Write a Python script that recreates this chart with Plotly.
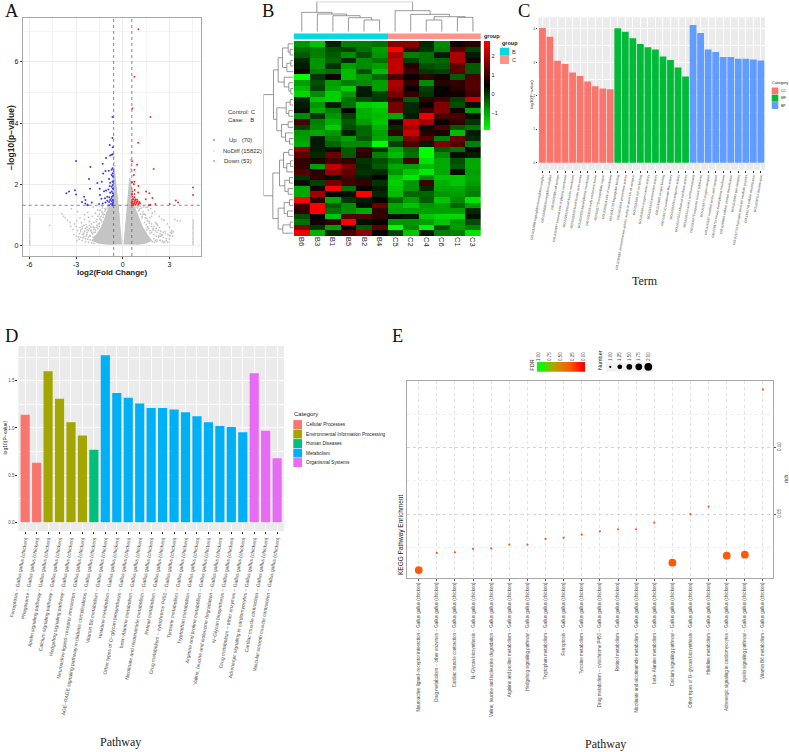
import plotly.graph_objects as go

W, H = 789, 752
SANS = "Liberation Sans"
SERIF = "Liberation Serif"

# ---------- Panel A data ----------
up_x = [-.66,-.66,-.84,-.64,-.81,-.64,-.71,-1.07,-3.0,-1.29,-2.08,-.66,-.71,-1.11,-.90,-1.26,-.64,-.71,-2.17,-.88,-.64,-1.35,-1.63,-.81,-.66,-.64,-.84,-.71,-2.10,-1.48,-.92,-.64,-1.07,-1.20,-3.07,-3.45,-3.62,-3.0,-2.49,-1.46,-.81,-.71,-.64,-.99,-.86,-.69,-1.14,-1.37,-2.40,-2.62,-1.99,-1.52,-1.29,-1.11,-.88,-.71,-.64,-.81,-.99,-.64,-.75,-2.40,-2.25,-.88,-.66,-2.27,-.62,-.62,-.62,-.73]
up_y = [4.20,3.51,3.28,3.21,2.94,2.98,2.96,2.86,2.76,2.67,2.56,2.52,2.47,2.43,2.44,2.35,2.36,2.30,2.17,2.17,2.25,2.08,2.04,2.05,2.08,1.97,1.94,1.92,1.85,1.85,1.83,1.85,1.79,1.77,1.80,1.76,1.70,1.66,1.59,1.65,1.72,1.76,1.70,1.59,1.57,1.59,1.54,1.52,1.48,1.42,1.40,1.35,1.37,1.40,1.42,1.44,1.48,1.48,1.46,1.35,1.35,1.37,1.31,1.31,1.31,1.33,2.10,1.62,1.40,1.53]
down_x = [1.01,.75,.62,1.78,.99,.60,.92,1.99,.75,.71,.75,.60,.71,1.01,.77,.62,1.50,1.71,.60,.75,.99,4.52,4.52,1.91,1.48,3.41,3.56,3.02,2.10,1.76,1.67,.62,.75,.69,.82,.92,.64,.77,.90,1.07,.60,.73,.88,1.05,.60,.81,1.01,1.11,.58,.69,.64,.79,.96]
down_y = [7.07,5.52,4.48,4.20,3.36,2.75,2.64,2.50,2.47,2.30,2.08,2.06,2.00,1.94,1.81,1.76,1.76,1.70,1.68,1.68,1.73,1.89,1.65,1.55,1.51,1.47,1.40,1.35,1.35,1.33,1.31,1.59,1.57,1.51,1.51,1.49,1.44,1.42,1.42,1.42,1.38,1.38,1.37,1.38,1.33,1.33,1.35,1.38,1.40,1.33,1.51,1.46,1.44]
nodiff_x = [-4.7,3.7,-3.9,-3.8,-3.7,-3.55,-3.4,-3.3,-3.1,-3.0,-2.9,-2.75,-2.6,-2.45,-2.3,-2.2,-2.05,-1.9,-1.75,-1.6,-1.45,-1.3,
            -3.0,-2.85,-2.7,-2.55,-2.4,-2.25,-2.1,-1.95,-1.8,-2.9,-2.7,-2.5,-2.3,-2.1,-1.9,-2.6,-2.4,-2.2,-2.0,-1.8,-3.2,-2.95,-2.65,-2.35,-2.05,-1.85,-1.65,-1.5,-1.4,-1.25,-1.15,-1.55,-1.7,-1.35,-1.2,-2.15,-2.45,-2.75,-1.95,-2.25,-2.55,-3.15,-3.35,-2.95,-1.6,-1.75,-1.45,-1.3,
            1.2,1.3,1.45,1.55,1.7,1.85,2.0,2.15,2.3,2.45,2.6,2.75,2.9,3.05,3.2,3.35,3.5,1.25,1.4,1.6,1.75,1.95,2.1,2.25,2.4,2.6,2.8,3.0,3.1,2.0,2.2,2.4,2.55,2.7,2.9,1.5,1.65,1.8,1.9,2.05,2.35,2.5,2.65,2.85,3.0,1.15,1.35,1.55,1.75,1.3,1.5,1.7,2.1,2.3,2.5,3.15,3.25,2.2,1.85,1.6,
            .55,.5,.55,.5,-.55,-.58,-.5,.52,-.6,-.75,-.9,.7,.85,1.0]
nodiff_y = [.65,.8,1.03,.95,.9,.82,.75,1.2,.7,.62,1.1,.58,.55,1.0,.5,.92,.47,1.25,.43,1.15,.9,1.22,
            .3,.28,.26,.24,.22,.2,.18,.16,.14,.48,.44,.4,.36,.32,.26,.62,.55,.48,.42,.3,.52,.8,.74,.68,.6,.52,.6,.72,.82,1.0,1.2,.35,.78,1.1,.7,.78,.85,.9,.95,1.08,.35,.36,.62,.15,.95,1.05,1.15,1.28,
            1.22,1.1,1.0,.88,.78,.7,.62,.55,.5,.46,.42,.38,.35,.32,.3,.85,.8,.95,1.02,.6,.9,.5,.75,.65,.3,.26,.22,.2,.42,.22,.18,.16,.14,.12,.1,1.24,1.15,1.2,1.05,1.1,.95,.85,.82,.7,.6,1.28,1.25,.5,.4,.45,.28,.22,.16,.3,.34,.48,.44,.7,.95,1.25,
            2.6,2.4,3.05,2.8,2.7,2.9,2.6,2.5,1.32,1.3,1.3,1.3,1.25,1.27]
speckle_x = [-1.3,-1.15,-1.25,-1.45,-1.35,-1.55,-1.6,-1.75,-1.85,-1.95,-2.1,-2.2,-2.35,-2.5,-1.5,-1.65,-1.8,-1.9,-2.05,-2.15,-2.3,-2.45,-2.6,-2.8,-1.1,-1.0,-.95,-1.4,-1.5,-1.65,-1.85,-2.0,-2.15,-2.3,-2.5,-2.7,-2.2,-2.4,-2.0,-1.85,-2.6,-2.8,-1.05,-1.2,
             1.15,1.05,1.25,1.4,1.5,1.65,1.75,1.85,2.0,2.15,2.3,2.45,1.45,1.6,1.7,1.85,1.95,2.1,2.2,2.4,2.55,2.7,2.15,2.35,1.1,.95,1.0,1.3,1.9,2.05,2.2,2.4,2.6,2.8,3.0,3.1,3.15]
speckle_y = [1.05,1.12,.92,.85,.78,.7,.55,.5,.42,.38,.3,.27,.3,.28,.62,.66,.58,.6,.5,.55,.42,.46,.36,.38,1.18,1.22,1.25,.95,1.02,.85,.75,.7,.65,.6,.65,.5,.1,.12,.08,.06,.16,.2,1.0,1.02,
             1.02,1.15,.9,.75,.68,.55,.48,.42,.36,.3,.26,.3,.9,.8,.72,.62,.55,.48,.42,.38,.34,.45,.7,.58,1.2,1.22,1.12,1.02,.12,.1,.13,.16,.1,.16,.32,.42,.4]
nodiff_col_left_y = [.02,.07,.12,.16,.22,.26,.31,.36,.4,.46,.5,.55,.6,.64,.7,.74,.79,.84,.9]
nodiff_col_right_y = [.03,.08,.12,.18,.23,.27,.33,.37,.42,.47,.53,.57,.62,.67,.72,.77,.83]
nodiff_col_left_x = [-5.98] * len(nodiff_col_left_y)
nodiff_col_right_x = [4.52] * len(nodiff_col_right_y)
dense_x = [-.04,-.1,-.16,-.2,-.28,-.36,-.45,-.52,-.62,-.65,-.63,-.85,-1.05,-1.2,-1.4,-1.7,-2.0,-1.6,-1.0,None,
           .04,.1,.16,.22,.28,.35,.42,.5,.57,.58,.75,.95,1.1,1.3,1.6,1.9,1.5,1.0]
dense_y = [.03,.35,.7,1.0,1.4,1.8,2.2,2.55,2.55,2.0,1.3,1.28,1.1,.85,.6,.35,.15,.06,.02,None,
           .03,.35,.7,1.0,1.4,1.8,2.2,2.2,1.9,1.3,1.28,1.05,.85,.6,.35,.15,.06,.02]
fc_cut = [-.585, .585]
p_cut = [1.31]

# ---------- Panel B data ----------
heat_cols = ["B6","B3","B1","B5","B2","B4","C5","C2","C4","C6","C1","C3"]
heat_groups = [0,0,0,0,0,0,1,1,1,1,1,1]
heat_z = [
 [-.8,-1.3,.15,-.6,-.6,-.5,1.7,1.7,.1,-.7,.6,.8],
 [-.5,-.6,-.2,-.1,-.5,-.9,2.8,1.0,0,-.6,1.2,-.1],
 [-.3,-.6,-.3,-.7,-.2,-.8,2.0,-.6,-.5,.2,2.0,.2],
 [.1,-.8,-.4,.1,-.7,-.5,2.2,-.1,-.5,-.4,2.0,.6],
 [.2,-.8,0,-.9,-.7,-.9,2.2,.8,-.2,-.3,1.3,-.3],
 [.6,-.6,-.5,-1.2,-.2,-1.2,2.2,1.0,.0,-.1,1.2,-.3],
 [-1.9,.0,.6,-1.2,-.8,-.4,1.1,.5,.9,.6,-.3,1.1],
 [-.9,-.2,-.9,-.6,-.7,-.9,2.0,.9,-.7,.8,.9,1.2],
 [-1.2,-.1,-1.0,-1.4,.2,-.9,1.9,.5,-.1,.4,.8,1.2],
 [-1.5,-.7,-1.4,-.8,.2,-.1,1.5,.9,.0,.5,.6,1.0],
 [.1,-1.3,-1.4,-.5,-.2,.0,1.0,-.3,.9,1.0,-.1,2.3],
 [.2,-.8,.2,-.5,-1.4,-1.5,1.5,.1,.5,1.6,-.2,.3],
 [.3,-1.0,-.6,.4,-1.1,-1.3,1.5,.1,1.0,1.6,.6,-.9],
 [-.7,.0,-.8,-.1,-1.1,-1.2,-1.0,.2,2.6,1.1,1.1,.3],
 [1.1,-.6,-1.1,-.3,-.9,-1.3,.6,2.3,1.9,.5,.9,.0],
 [-.1,-.7,-1.4,-.2,-.4,-1.1,.1,2.0,.3,1.1,-.3,-.5],
 [-.8,-1.0,-.8,.2,-.4,-.9,.9,2.3,.8,.7,-1.2,.2],
 [-.9,.2,-.6,-.9,-.3,-1.0,-.6,1.6,1.2,-.6,1.4,.1],
 [-1.0,.2,-.4,-.7,-.7,-1.9,-.1,1.1,.2,1.6,1.2,-.6],
 [1.7,.2,.3,-.3,1.0,.0,-1.0,-.4,-1.9,-.3,-.5,.6],
 [1.3,.1,1.4,-.3,.8,-.6,-1.2,-.5,-1.9,-.7,.3,.2],
 [.9,.7,1.0,.9,.0,-.2,-.6,1.0,-1.6,-1.0,-.2,-1.0],
 [.9,-.9,2.2,1.5,.1,-.3,-1.0,-.9,-1.2,-1.0,-.3,-1.0],
 [1.2,.8,1.8,1.3,.0,.1,-.8,-1.3,-1.7,-1.0,.3,-.9],
 [.0,.9,.3,1.1,.2,.4,-1.3,-1.7,-.7,-1.3,-1.3,-1.0],
 [.3,-.1,1.5,1.0,.9,.0,-1.4,-.8,1.0,-1.1,-1.3,-.9],
 [-1.0,.6,2.8,-.5,.5,.2,-1.3,-.8,.1,-1.0,-1.0,-.7],
 [-1.0,1.9,.4,.3,2.8,.1,-1.2,-.4,-.4,-.8,-.9,-.6],
 [2.8,.8,-1.0,.0,.2,.4,-.4,-.9,-.3,-1.3,-.7,-1.6],
 [1.0,2.8,-.3,-.7,.3,1.4,-1.0,-1.3,-.8,-.9,-.4,-.9],
 [.9,2.8,-.5,-.7,-1.0,.9,-.9,-.9,-.9,-.9,-.9,.1],
 [-.2,.5,-1.3,1.2,1.2,.9,.3,.2,-1.3,-1.5,-1.5,.3],
 [-.5,.6,.9,2.8,.3,.5,-.8,-.8,-.9,-1.3,-.8,-.2],
 [1.7,.0,-.9,.5,-.3,1.3,-1.9,-.7,-1.8,-.2,-.9,-.6],
 [2.6,-1.1,.1,1.1,1.7,.4,-.1,-1.3,.2,-.6,-.6,-1.6],
]
heat_cb_ticks = [-1, 0, 1, 2]
col_tree = (90,(58,0,(53,1,(48,2,(42,3,(35,4,5))))),(63,6,(52,7,(45,(35,8,9),(43,10,11)))))
row_top = (60,(46,(33,(16,0,(10,1,2)),(20,(8,3,4),5)),(28,6,(14,7,(8,8,9)))),(50,(22,(10,10,11),(14,12,13)),(36,(16,14,15),(24,16,(12,17,18)))))
row_bot = (62,(42,(30,(14,19,20),(20,(9,21,22),23)),(26,(12,24,25),(16,26,27))),(46,(28,(12,28,29),(18,30,31)),(32,(10,32,33),34)))
row_tree = (90, row_top, row_bot)

# ---------- Panel C data ----------
go_cc = ["GO:0031838 haptoglobin-hemoglobin complex","GO:0005833 hemoglobin complex","GO:0009986 cell surface","GO:0009897 external side of plasma membrane","GO:0031526 brush border membrane","GO:0005903 brush border actin series","GO:0009925 basal plasma membrane","GO:0031526 early endosome lumen","GO:0005773 extracellular region","GO:0005603 side of membrane"]
go_mf = ["GO:0031720 haptoglobin binding","GO:0004601 peroxidase activity","GO:0016684 oxidoreductase activity, acting on peroxide as acceptor","GO:0005506 iron ion binding","GO:0005344 oxygen carrier activity","GO:0016209 antioxidant activity","GO:0019825 oxygen binding","GO:0016740 transferase-like activity","GO:0005215 transporter activity","GO:0004750 carbamoyl synthase activity"]
go_bp = ["GO:0006144 amino acid homeostasis","GO:0006979 response to toxic substance","GO:0015671 oxygen transport","GO:0042537 modified amino acid transport","GO:0098754 heavy metal plasma membrane","GO:0098869 cellular oxidant detoxification","GO:0015669 gas transport","GO:0042744 hydrogen peroxide catabolic process","GO:1990748 cellular detoxification","GO:0098754 detoxification"]
val_cc = [4.03,3.77,3.05,2.95,2.7,2.59,2.43,2.29,2.22,2.2]
val_mf = [4.02,3.92,3.72,3.55,3.45,3.39,3.18,3.07,2.85,2.58]
val_bp = [4.12,3.88,3.39,3.31,3.16,3.16,3.11,3.11,3.09,3.06]
# duplicates on a category axis would merge, so labels stay unique through position indices
go_labels = go_cc + go_mf + go_bp
go_pos_cc = list(range(0,10)); go_pos_mf = list(range(10,20)); go_pos_bp = list(range(20,30))
go_cat_names = ["CC","MF","BP"]
go_cat_colors = ["#F8766D","#00BA38","#619CFF"]

# ---------- Panel D data ----------
sp = " − Gallus gallus (chicken)"
d_cat = {
 "Cellular Processes": (["Ferroptosis","Phagosome"],[1.14,.63],"#F8766D"),
 "Environmental Information Processing": (["Apelin signaling pathway","Calcium signaling pathway","Hedgehog signaling pathway","Neuroactive ligand−receptor interaction"],[1.60,1.31,1.06,.92],"#A3A500"),
 "Human Diseases": (["AGE−RAGE signaling pathway in diabetic complications"],[.77],"#00BF7D"),
 "Metabolism": (["Vitamin B6 metabolism","Histidine metabolism","Other types of O−glycan biosynthesis","beta−Alanine metabolism","Nicotinate and nicotinamide metabolism","Retinol metabolism","Drug metabolism − cytochrome P450","Tyrosine metabolism","Tryptophan metabolism","Arginine and proline metabolism","Valine, leucine and isoleucine degradation","N−Glycan biosynthesis","Drug metabolism − other enzymes"],[1.77,1.37,1.32,1.26,1.21,1.21,1.195,1.165,1.125,1.06,1.02,1.01,.955],"#00B0F6"),
 "Organismal Systems": (["Adrenergic signaling in cardiomyocytes","Cardiac muscle contraction","Vascular smooth muscle contraction"],[1.58,.97,.68],"#E76BF3"),
}

# ---------- Panel E data ----------
e_terms = ["Neuroactive ligand−receptor interaction","Drug metabolism − other enzymes","Cardiac muscle contraction","N−Glycan biosynthesis","Valine, leucine and isoleucine degradation","Arginine and proline metabolism","Hedgehog signaling pathway","Tryptophan metabolism","Ferroptosis","Tyrosine metabolism","Drug metabolism − cytochrome P450","Retinol metabolism","Nicotinate and nicotinamide metabolism","beta−Alanine metabolism","Calcium signaling pathway","Other types of O−glycan biosynthesis","Histidine metabolism","Adrenergic signaling in cardiomyocytes","Apelin signaling pathway","Vitamin B6 metabolism"]
e_rich = [.008,.0208,.0213,.0238,.0243,.027,.027,.0313,.0323,.0345,.037,.0385,.0385,.0435,.0135,.05,.0555,.0188,.0195,.1433]
e_number = [2,1,1,1,1,1,1,1,1,1,1,1,1,1,2,1,1,2,2,1]
e_fdr = [.33]*20
e_fdr_ticks = [1.0,.75,.5,.25,0.0]
e_num_ticks = [1.0,1.25,1.5,1.75,2.0]

# ---------- helpers ----------
def px(x): return x / W
def py(y): return 1 - y / H
def dom_x(a, b): return [px(a), px(b)]
def dom_y(top, bottom): return [py(bottom), py(top)]

def tree_lines(tree):
    xs, ys = [], []
    def walk(n):
        if isinstance(n, int):
            return n, 0
        h, a, b = n
        pa, ha = walk(a); pb, hb = walk(b)
        xs.extend([pa, pa, pb, pb, None]); ys.extend([ha, h, h, hb, None])
        return (pa + pb) / 2, h
    walk(tree)
    return xs, ys

fig = go.Figure()
annots, shapes = [], []
def note(x, y, text, size, family=SANS, color="#333333", angle=0, anchor="center", bold=False):
    if bold: text = f"<b>{text}</b>"
    annots.append(dict(x=px(x), y=py(y), xref="paper", yref="paper", text=text, showarrow=False,
                       font=dict(size=size, family=family, color=color), textangle=angle,
                       xanchor=anchor, yanchor="middle", borderpad=0))
def swatch(x0, x1, y0, y1, color):
    shapes.append(dict(type="rect", xref="paper", yref="paper", x0=px(x0), x1=px(x1), y0=py(y0), y1=py(y1),
                       fillcolor=color, line=dict(width=0), layer="below"))

for t, x, y in [("A",12,11),("B",268,11),("C",524,11),("D",11,336),("E",397,336)]:
    note(x, y, t, 18.5, SERIF, "#111111")

layout_axes = {}

# ---------- Panel A ----------
GREY = "#C4C4C4"
fig.add_trace(go.Scatter(x=dense_x, y=dense_y, fill="toself", mode="none", fillcolor=GREY, xaxis="x", yaxis="y", hoverinfo="skip", name="NoDiff core"))
for xs, ys, c, s, nm in [(nodiff_x, nodiff_y, GREY, 1.8, "NoDiff"),
                         (speckle_x, speckle_y, GREY, 1.8, "NoDiff"),
                         (nodiff_col_left_x, nodiff_col_left_y, GREY, 1.6, "NoDiff"),
                         (nodiff_col_right_x, nodiff_col_right_y, GREY, 1.6, "NoDiff"),
                         (up_x, up_y, "#3A3AF0", 2, "Up"),
                         (down_x, down_y, "#F03030", 2, "Down")]:
    fig.add_trace(go.Scatter(x=xs, y=ys, mode="markers", marker=dict(size=s, color=c, line=dict(width=0)), xaxis="x", yaxis="y", name=nm))
for v in fc_cut:
    shapes.append(dict(type="line", xref="x", yref="y domain", x0=v, x1=v, y0=0, y1=1, line=dict(color="#555555", width=0.7, dash="dot")))
for v in p_cut:
    shapes.append(dict(type="line", xref="x domain", yref="y", x0=0, x1=1, y0=v, y1=v, line=dict(color="#555555", width=0.7, dash="dot")))
FRAME = "#A8A8A8"
layout_axes["xaxis"] = dict(domain=dom_x(22.7,201), range=[-6.43,5.03], tickvals=[-6,-3,0,3], ticktext=["-6","-3","0","3"],
    gridcolor="#EDEDED", gridwidth=0.8, zeroline=False, showline=True, linecolor=FRAME, linewidth=1, mirror=True,
    ticks="outside", ticklen=2, tickcolor="#333333", tickfont=dict(size=7, family=SANS, color="#111111"),
    minor=dict(tickvals=[-4.5,-1.5,1.5,4.5], showgrid=True, gridcolor="#F4F4F4", gridwidth=0.5, ticks=""), anchor="y")
layout_axes["yaxis"] = dict(domain=dom_y(18,256), range=[-.35,7.44], tickvals=[0,2,4,6],
    gridcolor="#EDEDED", gridwidth=0.8, zeroline=False, showline=True, linecolor=FRAME, linewidth=1, mirror=True,
    ticks="outside", ticklen=2, tickcolor="#333333", tickfont=dict(size=7, family=SANS, color="#111111"),
    minor=dict(tickvals=[1,3,5,7], showgrid=True, gridcolor="#F4F4F4", gridwidth=0.5, ticks=""), anchor="x")
note(11, 138, "−log10(p−value)", 8.5, SANS, "#222222", -90, bold=True)
note(112, 272.5, "log2(Fold Change)", 8, SANS, "#222222", bold=True)
note(227, 112, "Control: C", 6, anchor="left")
note(227, 120, "Case:&nbsp;&nbsp;&nbsp;&nbsp;B", 6, anchor="left")
note(228, 140, "Up&nbsp;&nbsp;&nbsp;(70)", 6, anchor="left")
note(222, 151, "NoDiff (15822)", 6, anchor="left")
note(223, 161, "Down (53)", 6, anchor="left")
for y_, c_ in [(140,"#3A3AF0"),(151,GREY),(161,"#F03030")]:
    shapes.append(dict(type="circle", xref="paper", yref="paper", x0=px(213.2), x1=px(214.8), y0=py(y_+.8), y1=py(y_-.8), fillcolor=c_, line=dict(width=0)))

# ---------- Panel B ----------
fig.add_trace(go.Heatmap(z=heat_z, x=heat_cols, y=list(range(len(heat_z))), xaxis="x2", yaxis="y2",
    zmin=-1.91, zmax=2.77, colorscale=[[0,"#00FF00"],[.25,"#009000"],[.5,"#000000"],[1,"#FF0000"]],
    colorbar=dict(x=px(484), xanchor="left", xpad=0, y=py(41), yanchor="top", ypad=0, len=89, lenmode="pixels",
                  thickness=6, thicknessmode="pixels", outlinewidth=0, tickvals=heat_cb_ticks,
                  ticktext=["−1","0","1","2"], ticks="", tickfont=dict(size=5.5, family=SANS, color="#222222"))))
layout_axes["xaxis2"] = dict(domain=dom_x(294,480.7), anchor="y2", tickangle=90, ticks="", showgrid=False, zeroline=False,
    tickfont=dict(size=7.5, family=SANS, color="#222222"), type="category", categoryorder="array", categoryarray=heat_cols)
layout_axes["yaxis2"] = dict(domain=dom_y(41,236), anchor="x2", autorange="reversed", visible=False)
cx, cy = tree_lines(col_tree)
fig.add_trace(go.Scatter(x=cx, y=cy, mode="lines", line=dict(color="#7F7F7F", width=0.8), xaxis="x3", yaxis="y3", name="col tree"))
layout_axes["xaxis3"] = dict(domain=dom_x(294,480.7), anchor="y3", range=[-.5,11.5], visible=False)
layout_axes["yaxis3"] = dict(domain=dom_y(1.7,31.7), anchor="x3", range=[0,90], visible=False)
rx, ry = tree_lines(row_tree)
fig.add_trace(go.Scatter(x=ry, y=rx, mode="lines", line=dict(color="#7F7F7F", width=0.8), xaxis="x4", yaxis="y4", name="row tree"))
layout_axes["xaxis4"] = dict(domain=dom_x(263.5,293.5), anchor="y4", range=[90,0], visible=False)
layout_axes["yaxis4"] = dict(domain=dom_y(41,236), anchor="x4", range=[34.5,-.5], visible=False)
fig.add_trace(go.Heatmap(z=[heat_groups], xaxis="x5", yaxis="y5", showscale=False, zmin=0, zmax=1,
                         colorscale=[[0,"#00DAE0"],[.5,"#00DAE0"],[.5,"#FF9289"],[1,"#FF9289"]]))
layout_axes["xaxis5"] = dict(domain=dom_x(294,480.7), anchor="y5", range=[-.5,11.5], visible=False)
layout_axes["yaxis5"] = dict(domain=dom_y(33.3,39.3), anchor="x5", range=[-.5,.5], visible=False)
note(483, 36.5, "group", 5.5, color="#222222", anchor="left", bold=True)
note(501, 43, "group", 5.5, color="#222222", anchor="left", bold=True)
swatch(500,509,47.7,55.7,"#00DAE0"); swatch(500,509,55.7,64,"#FF9289")
note(510.7, 51.7, "B", 5.5, anchor="left"); note(510.7, 60, "C", 5.5, anchor="left")

# ---------- Panel C ----------
for pos, vals, nm, col in zip([go_pos_cc, go_pos_mf, go_pos_bp],[val_cc,val_mf,val_bp],go_cat_names,go_cat_colors):
    fig.add_trace(go.Bar(x=pos, y=vals, width=.9, marker=dict(color=col, line=dict(width=0)), xaxis="x6", yaxis="y6", name=nm))
TXT = "#4D4D4D"
layout_axes["xaxis6"] = dict(domain=dom_x(538.3,765), anchor="y6", range=[-.55,29.55], tickvals=list(range(30)), ticktext=go_labels,
    tickangle=-80, ticks="outside", ticklen=1.5, tickwidth=.5, tickcolor="#333333", tickfont=dict(size=3.2, family=SANS, color="#3A3A3A"),
    gridcolor="white", gridwidth=.6, zeroline=False, showline=False)
layout_axes["yaxis6"] = dict(domain=dom_y(17.3,170), anchor="x6", range=[-.22,4.35], tickvals=[0,1,2,3,4],
    ticks="outside", ticklen=1.5, tickwidth=.5, tickcolor="#333333", tickfont=dict(size=3.5, family=SANS, color=TXT),
    gridcolor="white", gridwidth=.6, zeroline=False, showline=False,
    minor=dict(tickvals=[.5,1.5,2.5,3.5], showgrid=True, gridcolor="white", gridwidth=.3, ticks=""))
shapes.append(dict(type="rect", xref="paper", yref="paper", x0=px(538.3), x1=px(765), y0=py(170), y1=py(17.3), fillcolor="#EBEBEB", line=dict(width=0), layer="below"))
note(530.7, 94, "log10(P−value)", 4.2, color="#222222", angle=-90)
note(645, 280.7, "Term", 12, SERIF, "#222222")
note(770.5, 83, "Category", 4, color="#222222", anchor="left")
for i,(nm,col) in enumerate(zip(go_cat_names,go_cat_colors)):
    swatch(771.7,778.3,87.3+7.3*i+.2,87.3+7.3*(i+1)-.2,col)
    note(780,91+7.3*i,nm,3.5,color="#222222",anchor="left")

# ---------- Panel D ----------
d_labels, d_i = [], 0
for k,(terms,vals,col) in d_cat.items():
    pos = list(range(d_i, d_i+len(terms)))
    fig.add_trace(go.Bar(x=pos, y=vals, width=.8, marker=dict(color=col, line=dict(width=0)), xaxis="x7", yaxis="y7", name=k))
    d_labels += [t+sp for t in terms]
    d_i += len(terms)
layout_axes["xaxis7"] = dict(domain=dom_x(18.3,284), anchor="y7", range=[-.6,22.6], tickvals=list(range(23)), ticktext=d_labels,
    tickangle=-80, ticks="outside", ticklen=2, tickwidth=.5, tickcolor="#333333", tickfont=dict(size=5, family=SANS, color=TXT),
    gridcolor="white", gridwidth=.7, zeroline=False, showline=False)
layout_axes["yaxis7"] = dict(domain=dom_y(346,531), anchor="x7", range=[-.092,1.868], tickvals=[0,.5,1,1.5], ticktext=["0.0","0.5","1.0","1.5"],
    ticks="outside", ticklen=2, tickwidth=.5, tickcolor="#333333", tickfont=dict(size=4.5, family=SANS, color=TXT),
    gridcolor="white", gridwidth=.7, zeroline=False, showline=False,
    minor=dict(tickvals=[.25,.75,1.25,1.75], showgrid=True, gridcolor="white", gridwidth=.35, ticks=""))
shapes.append(dict(type="rect", xref="paper", yref="paper", x0=px(18.3), x1=px(284), y0=py(531), y1=py(346), fillcolor="#EBEBEB", line=dict(width=0), layer="below"))
note(4.5, 438, "log10(P−value)", 5, color="#222222", angle=-90)
note(120, 741.7, "Pathway", 12, SERIF, "#222222")
note(293, 413.7, "Category", 6, color="#222222", anchor="left")
for i,(k,v) in enumerate(d_cat.items()):
    swatch(293.3,302,419.8+9.5*i+.3,419.8+9.5*(i+1)-.3,v[2])
    note(305,424.5+9.5*i,k,4.7,color="#222222",anchor="left")

# ---------- Panel E ----------
fdr_scale = [[0,"#FF0000"],[.33,"#FF5A0A"],[.66,"#B8A000"],[1,"#00FF00"]]
num_size = {1.0:2.2, 1.25:4.8, 1.5:5.8, 1.75:6.8, 2.0:7.8}
fig.add_trace(go.Scatter(x=list(range(20)), y=e_rich, mode="markers", xaxis="x8", yaxis="y8", name="KEGG",
    marker=dict(size=[num_size[float(n)] for n in e_number], color=e_fdr, cmin=0, cmax=1, colorscale=fdr_scale, opacity=1, line=dict(width=0)),
    text=e_terms))
layout_axes["xaxis8"] = dict(domain=dom_x(407.3,773.3), anchor="y8", range=[-.63,19.57], tickvals=list(range(20)), ticktext=[t+sp for t in e_terms],
    tickangle=-90, ticks="outside", ticklen=1.5, tickwidth=.5, tickcolor="#555555", tickfont=dict(size=4.5, family=SANS, color=TXT),
    gridcolor="#E2E2E2", gridwidth=.6, griddash="dot", zeroline=False, showline=True, linecolor=FRAME, linewidth=1, mirror=True)
layout_axes["yaxis8"] = dict(domain=dom_y(380.7,578.3), anchor="x8", side="right", range=[.0018,.15], tickvals=[.05,.10], ticktext=["0.05","0.10"],
    tickangle=-90, ticks="outside", ticklen=1.5, tickwidth=.5, tickcolor="#555555", tickfont=dict(size=4.5, family=SANS, color=TXT),
    gridcolor="#D4D4D4", gridwidth=.6, griddash="dot", zeroline=False, showline=True, linecolor=FRAME, linewidth=1, mirror=True,
    minor=dict(tickvals=[.025,.075,.125], showgrid=True, gridcolor="#EEEEEE", gridwidth=.5, griddash="dot", ticks=""))
note(401, 535, "KEGG Pathway Enrichment", 6.5, color="#222222", angle=-90)
note(785.7, 479, "rich", 5, color="#222222", angle=-90)
note(605, 744, "Pathway", 12, SERIF, "#222222")

fig.add_trace(go.Heatmap(z=[e_fdr_ticks], x=e_fdr_ticks, xaxis="x9", yaxis="y9", zsmooth="best", showscale=False, zmin=0, zmax=1, colorscale=fdr_scale))
layout_axes["xaxis9"] = dict(domain=dom_x(537,585), anchor="y9", side="top", range=[1.04,-.04], tickvals=e_fdr_ticks,
    ticktext=["1.00","0.75","0.50","0.25","0.00"], tickangle=-90, ticks="", tickfont=dict(size=4.5, family=SANS, color=TXT), showgrid=False, zeroline=False)
layout_axes["yaxis9"] = dict(domain=dom_y(362,371.7), anchor="x9", range=[-.5,.5], visible=False)
note(531.7, 365, "FDR", 5.5, color="#222222", angle=-90)

fig.add_trace(go.Scatter(x=e_num_ticks, y=[0]*5, mode="markers", xaxis="x10", yaxis="y10", name="Number",
    marker=dict(size=[num_size[n] for n in e_num_ticks], color="#000000", opacity=1, line=dict(width=0))))
layout_axes["xaxis10"] = dict(domain=dom_x(606,653), anchor="y10", side="top", range=[.887,2.124], tickvals=e_num_ticks,
    ticktext=["1.00","1.25","1.50","1.75","2.00"], tickangle=-90, ticks="", tickfont=dict(size=4.5, family=SANS, color=TXT), showgrid=False, zeroline=False)
layout_axes["yaxis10"] = dict(domain=dom_y(362,371.7), anchor="x10", range=[-1,1], visible=False)
shapes.append(dict(type="rect", xref="paper", yref="paper", x0=px(606), x1=px(653), y0=py(371.7), y1=py(362), fillcolor="#F2F2F2", line=dict(width=0), layer="below"))
note(600, 360, "Number", 5.5, color="#222222", angle=-90)

fig.update_layout(width=W, height=H, margin=dict(l=0,r=0,t=0,b=0,autoexpand=False), paper_bgcolor="white", plot_bgcolor="rgba(0,0,0,0)",
    showlegend=False, barmode="overlay", annotations=annots, shapes=shapes, font=dict(family=SANS), **layout_axes)
fig.write_html("out.html", config={"displayModeBar": False}, post_script="document.body.style.margin='0';document.body.style.overflow='hidden';")
